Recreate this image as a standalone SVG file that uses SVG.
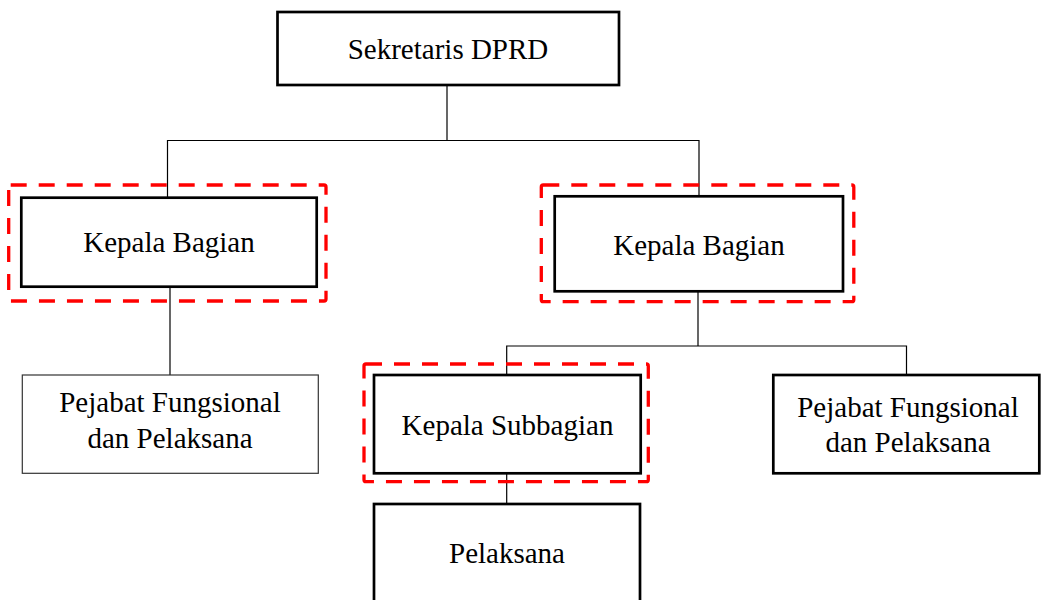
<svg xmlns="http://www.w3.org/2000/svg" width="1041" height="600" viewBox="0 0 1041 600">
  <style>
    .box { fill: #ffffff; stroke: #000000; stroke-width: 2.7; }
    .box-thin { fill: #ffffff; stroke: #333333; stroke-width: 1.2; }
    .focus { fill: none; stroke: #ff0000; stroke-width: 3.3; stroke-dasharray: 16 12; }
    .link { fill: none; stroke: #000000; stroke-width: 1.2; }
    text { font-family: "Liberation Serif", "Times New Roman", serif; font-size: 29px; fill: #000000; text-anchor: middle; }
  </style>
  <rect width="1041" height="600" fill="#ffffff"/>

  <!-- hierarchy lines -->
  <g id="connectors">
    <polyline class="link" points="447,85 447,140.5"/>
    <polyline class="link" points="167.5,197.7 167.5,140.5 699,140.5 699,196.3"/>
    <polyline class="link" points="170,286.7 170,375"/>
    <polyline class="link" points="698,291.3 698,346"/>
    <polyline class="link" points="506.7,375 506.7,346 906.5,346 906.5,375"/>
    <polyline class="link" points="506.7,473.3 506.7,504"/>
  </g>

  <g id="sekretaris">
    <rect class="box" x="277.5" y="12" width="341.5" height="73"/>
    <text x="448" y="59">Sekretaris DPRD</text>
  </g>

  <g id="kabag-left">
    <rect class="focus" x="8.7" y="185" width="317.3" height="116" rx="2"/>
    <rect class="box" x="21.3" y="197.7" width="295.4" height="89"/>
    <text x="169" y="252">Kepala Bagian</text>
  </g>

  <g id="kabag-right">
    <rect class="focus" x="541.3" y="185" width="312.5" height="116.7" rx="2"/>
    <rect class="box" x="554.7" y="196.3" width="288.3" height="95"/>
    <text x="699" y="255">Kepala Bagian</text>
  </g>

  <g id="fungsional-left">
    <rect class="box-thin" x="22.3" y="375" width="296" height="98.3"/>
    <text x="170" y="412">Pejabat Fungsional</text>
    <text x="170" y="448">dan Pelaksana</text>
  </g>

  <g id="kasubbag">
    <rect class="focus" x="364" y="364" width="284.3" height="117.7" rx="2"/>
    <rect class="box" x="374" y="375" width="266.7" height="98.3"/>
    <text x="507.5" y="435">Kepala Subbagian</text>
  </g>

  <g id="fungsional-right">
    <rect class="box" x="773.3" y="375" width="266" height="98.3"/>
    <text x="908" y="417">Pejabat Fungsional</text>
    <text x="908" y="452">dan Pelaksana</text>
  </g>

  <g id="pelaksana">
    <rect class="box" x="374" y="504" width="266" height="110"/>
    <text x="507" y="563">Pelaksana</text>
  </g>
</svg>
